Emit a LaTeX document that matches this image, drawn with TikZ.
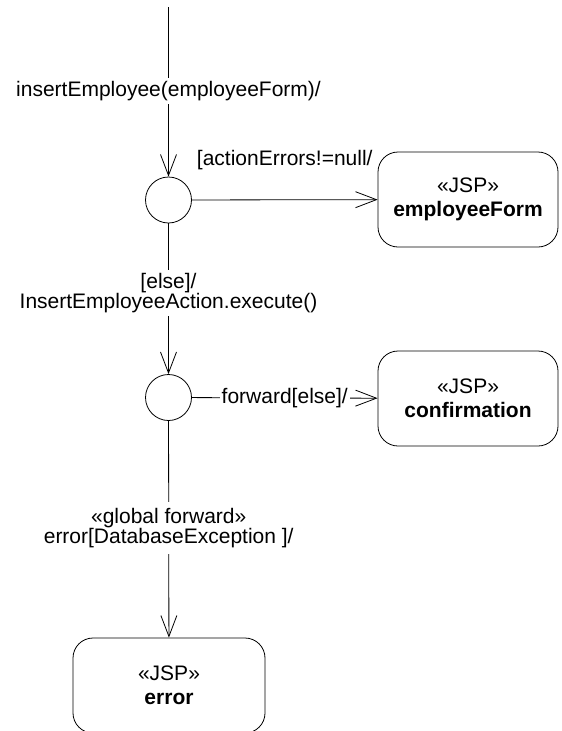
\documentclass[tikz,border=0pt]{standalone}
\usepackage{fontspec}
\setmainfont{Liberation Sans}
\usetikzlibrary{arrows.meta}

\tikzset{
    jspstate/.style={draw, rounded corners=20pt, minimum height=95pt, align=center, line width=0.8pt},
    choice/.style={draw, circle, minimum size=46pt, inner sep=0pt, line width=0.8pt},
    trans/.style={line width=0.8pt, -{Straight Barb[length=21pt,width=16pt,line width=0.8pt]}},
    guard/.style={fill=white, align=center, inner sep=3pt},
}

\begin{document}
\begin{tikzpicture}[x=1pt, y=-1pt, font=\fontsize{21}{20}\selectfont]
    \useasboundingbox (0,0) rectangle (562,731);

    % Choice points
    \coordinate (start) at (168.5,7);
    \node[choice] (check) at (168.5,200) {};
    \node[choice] (done) at (168.5,397.5) {};

    % JSP states
    \node[jspstate, minimum width=180pt] (form) at (468,199.5) {«JSP»\\[4pt]\textbf{employeeForm}};
    \node[jspstate, minimum width=180pt] (confirm) at (468,398.5) {«JSP»\\[4pt]\textbf{confirmation}};
    \node[jspstate, minimum width=192pt] (error) at (169,685.5) {«JSP»\\[4pt]\textbf{error}};

    % Transitions
    \draw[trans] (start) -- (check) node[guard, pos=0.494] {insertEmployee(employeeForm)/};
    \draw[trans] (check) -- (form) node[midway, anchor=base, yshift=34pt] {[actionErrors!=null/};
    \draw[trans] (check) -- (done) node[guard, pos=0.46] {[else]/\\InsertEmployeeAction.execute()};
    \draw[trans] (done) -- (confirm) node[guard, midway, inner xsep=2pt] {forward[else]/};
    \draw[trans] (done) -- (error) node[guard, pos=0.494, inner ysep=6pt] {«global forward»\\error[DatabaseException ]/};
\end{tikzpicture}
\end{document}
